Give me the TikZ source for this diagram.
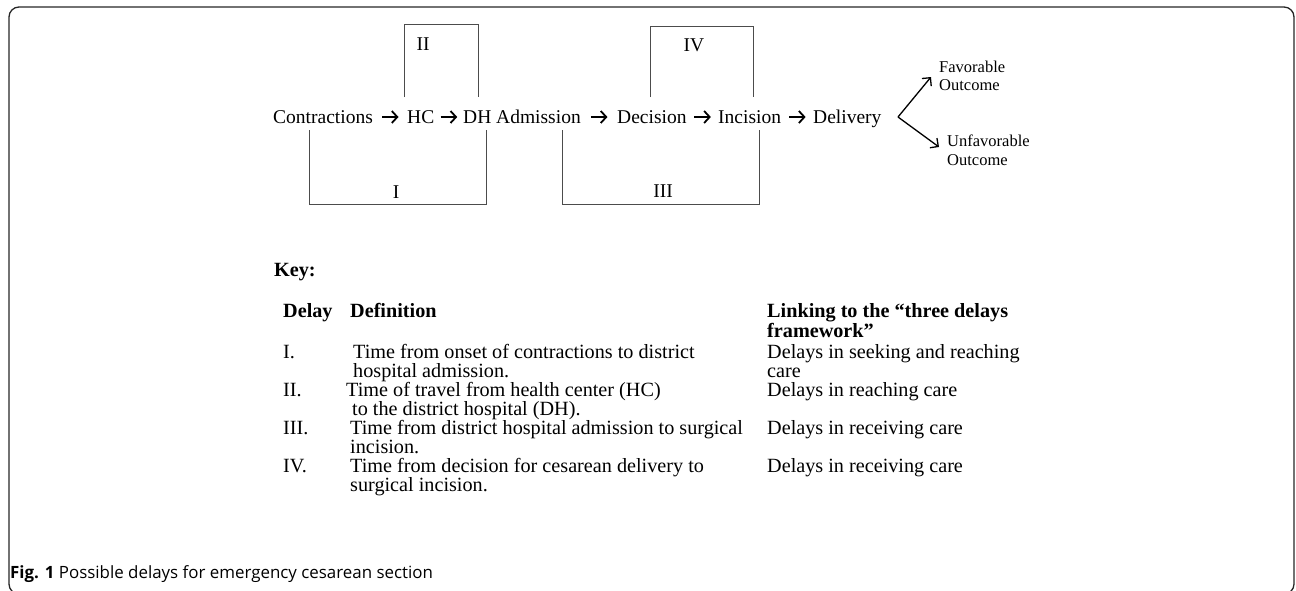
\documentclass[tikz,border=0pt]{standalone}
\usepackage{fontspec}
\setmainfont{Liberation Serif}
\newfontfamily\capfont{Open Sans}
\usetikzlibrary{arrows.meta,calc}
\tikzset{
  txt/.style={inner sep=0pt, anchor=base west, font=\fontsize{19.5}{19}\selectfont},
  tbl/.style={inner sep=0pt, anchor=base west, font=\fontsize{20.2}{19}\selectfont},
  hdr/.style={tbl, font=\fontsize{20.2}{19}\selectfont\bfseries},
  small/.style={inner sep=0pt, anchor=base west, font=\fontsize{16.5}{18}\selectfont},
  lbl/.style={inner sep=0pt, anchor=base, font=\fontsize{19.5}{19}\selectfont},
  flow/.style={line width=1.8pt, -{Straight Barb[length=5.5pt,width=12pt,line width=1.8pt]}},
  fork/.style={line width=1.3pt, -{Straight Barb[length=6pt,width=12pt]}},
  brk/.style={draw=black!70, line width=0.9pt},
  frame/.style={draw=black!85, line width=1.3pt, rounded corners=10pt},
  captxt/.style={inner sep=0pt, anchor=base west, font=\capfont\fontsize{16.9}{18}\selectfont}
}
\newcommand{\flowarrow}[2]{\draw[flow] ($(#1.base east)!0.5!(#2.base west)+(-8,-6)$) -- ++(16.5,0);}
\begin{document}
\begin{tikzpicture}[x=1pt,y=-1pt]
\useasboundingbox (0,0) rectangle (1296,590);
\begin{scope}
\clip (0,0) rectangle (1296,590);
\draw[frame] (9,7) rectangle (1294,594);
\end{scope}

% main flow
\node[txt] (w1) at (273,123) {Contractions};
\node[txt] (w2) at (407,123) {HC};
\node[txt] (w3) at (463,123) {DH Admission};
\node[txt] (w4) at (617,123) {Decision};
\node[txt] (w5) at (718,123) {Incision};
\node[txt] (w6) at (813,123) {Delivery};
\flowarrow{w1}{w2}
\flowarrow{w2}{w3}
\flowarrow{w3}{w4}
\flowarrow{w4}{w5}
\flowarrow{w5}{w6}

% brackets
\draw[brk] (404,97) -- (404,24) -- (478,24) -- (478,97);
\node[lbl] (l2) at (423,50) {II};
\draw[brk] (309,130) -- (309,204) -- (486,204) -- (486,130);
\node[lbl] (l1) at (396,198) {I};
\draw[brk] (650,97) -- (650,26) -- (753,26) -- (753,97);
\node[lbl] (l4) at (694,51) {IV};
\draw[brk] (562,130) -- (562,204) -- (759,204) -- (759,130);
\node[lbl] (l3) at (663,197) {III};

% outcomes
\coordinate (apex) at (898,117);
\coordinate (upend) at (931,77);
\coordinate (dnend) at (939,147);
\draw[fork] (apex) -- (upend);
\draw[fork] (apex) -- (dnend);
\node[small] (fav1) at (939,72) {Favorable};
\node[small] (fav2) at (939,90) {Outcome};
\node[small] (unf1) at (947,146) {Unfavorable};
\node[small] (unf2) at (947,165) {Outcome};

% key
\node[hdr] (key) at (274,276) {Key:};
\node[hdr] (hd1) at (283,317) {Delay};
\node[hdr] (hd2) at (350,317) {Definition};
\node[hdr] (hd3) at (767,317) {Linking to the “three delays};
\node[hdr] (hd3b) at (767,337) {framework”};

\node[tbl] (r1n) at (283,358) {I.};
\node[tbl] (r1a) at (353,358) {Time from onset of contractions to district};
\node[tbl] (r1b) at (353,377) {hospital admission.};
\node[tbl] (r1c) at (767,358) {Delays in seeking and reaching};
\node[tbl] (r1d) at (767,377) {care};

\node[tbl] (r2n) at (283,396) {II.};
\node[tbl] (r2a) at (346,396) {Time of travel from health center (HC)};
\node[tbl] (r2b) at (352,415) {to the district hospital (DH).};
\node[tbl] (r2c) at (767,396) {Delays in reaching care};

\node[tbl] (r3n) at (283,434) {III.};
\node[tbl] (r3a) at (350,434) {Time from district hospital admission to surgical};
\node[tbl] (r3b) at (350,453) {incision.};
\node[tbl] (r3c) at (767,434) {Delays in receiving care};

\node[tbl] (r4n) at (283,472) {IV.};
\node[tbl] (r4a) at (350,472) {Time from decision for cesarean delivery to};
\node[tbl] (r4b) at (350,491) {surgical incision.};
\node[tbl] (r4c) at (767,472) {Delays in receiving care};

\node[captxt] (caption) at (10,578) {\textbf{Fig. 1} Possible delays for emergency cesarean section};
\end{tikzpicture}
\end{document}
